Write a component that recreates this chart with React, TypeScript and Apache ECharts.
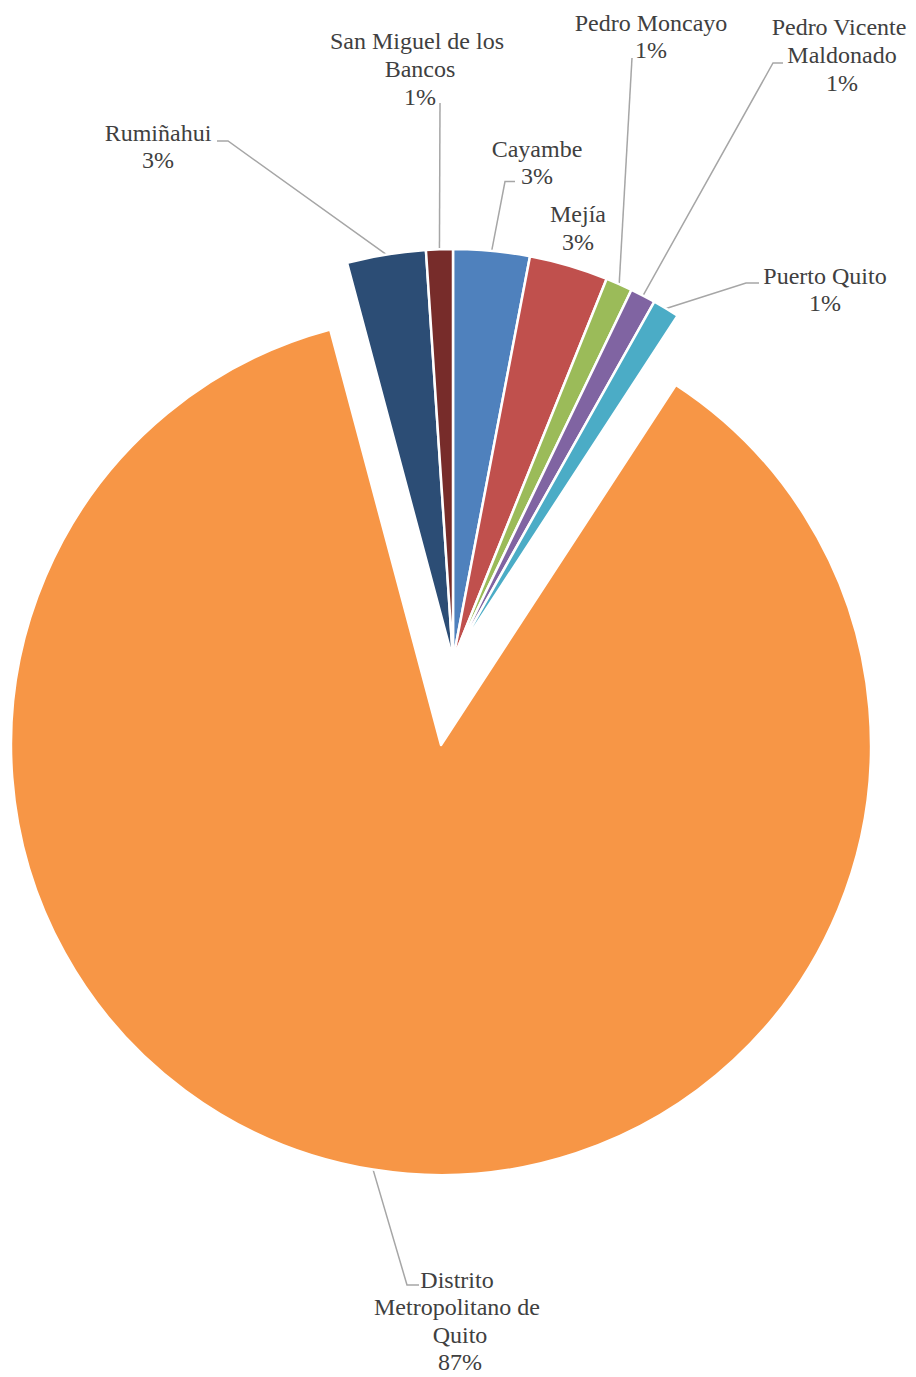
import React, { useEffect, useRef } from 'react';
import * as echarts from 'echarts';

// ---- data ----
const categories = [
  'Cayambe',
  'Mejía',
  'Pedro Moncayo',
  'Pedro Vicente Maldonado',
  'Puerto Quito',
  'Distrito Metropolitano de Quito',
  'Rumiñahui',
  'San Miguel de los Bancos',
];
const shares = [3.0, 3.1, 1.05, 1.0, 1.05, 86.65, 3.1, 1.05];
const colors = ['#4F81BD', '#C0504D', '#9BBB59', '#8064A2', '#4BACC6', '#F79646', '#2C4D75', '#772C2A'];
const explodedIndex = 5;

// ---- label layout (text block centre, leader end offset from centre, elbow dx) ----
const LABELS: { x: number; y: number; line: number[] | null }[] = [
  { x: 537, y: 162.5, line: [-22, 19, -10] },
  { x: 578, y: 228, line: null },
  { x: 651, y: 36.5, line: [-19, 21.5, 0] },
  { x: 842, y: 55, line: [-59, 8, -10] },
  { x: 825, y: 289.5, line: [-66, -6.5, -13] },
  { x: 460, y: 1321, line: [-41, -36, -12] },
  { x: 158, y: 146.5, line: [59, -5.5, 11] },
  { x: 420, y: 69, line: [20, 34, 0] },
];

const layoutFn = (params: any) => {
  const L = LABELS[params.dataIndex];
  const out: any = { x: L.x, y: L.y, align: 'center', verticalAlign: 'middle' };
  if (L.line && params.labelLinePoints && params.labelLinePoints.length) {
    const p0 = params.labelLinePoints[0];
    const end = [L.x + L.line[0], L.y + L.line[1]];
    const elbow = [end[0] + L.line[2], end[1]];
    out.labelLinePoints = [p0, elbow, end];
  }
  return out;
};

const buildData = (showExploded: boolean) =>
  categories.map((name, i) => {
    const visible = showExploded ? i === explodedIndex : i !== explodedIndex;
    return {
      name,
      value: shares[i],
      itemStyle: visible
        ? { color: colors[i] }
        : { color: 'rgba(0,0,0,0)', borderWidth: 0 },
      label: { show: visible },
      labelLine: { show: visible && LABELS[i].line != null },
    };
  });

const common = {
  type: 'pie',
  startAngle: 90,
  clockwise: true,
  percentPrecision: 0,
  avoidLabelOverlap: false,
  silent: true,
  emphasis: { disabled: true },
  itemStyle: { borderColor: '#ffffff', borderWidth: 2.5 },
  label: {
    position: 'outside',
    formatter: '{b}\n{d}%',
    color: '#404040',
    fontFamily: '"Liberation Serif", "Times New Roman", serif',
    fontSize: 24,
    lineHeight: 27.6,
    width: 190,
    overflow: 'break',
    align: 'center',
  },
  labelLine: {
    show: true,
    length: 10,
    length2: 10,
    lineStyle: { color: '#A6A6A6', width: 1.5 },
  },
  labelLayout: layoutFn,
};

export default function App() {
  const ref = useRef<HTMLDivElement>(null);
  useEffect(() => {
    if (!ref.current) return;
    const chart = echarts.init(ref.current, undefined, { renderer: 'svg' });
    chart.setOption({
      animation: false,
      backgroundColor: '#ffffff',
      series: [
        { ...common, center: [453, 660], radius: 411, data: buildData(false) },
        { ...common, center: [441, 745], radius: 430, data: buildData(true) },
      ],
    });
    return () => chart.dispose();
  }, []);
  return (
    <div
      ref={ref}
      style={{ position: 'absolute', left: 0, top: 0, width: 916, height: 1377 }}
    />
  );
}
